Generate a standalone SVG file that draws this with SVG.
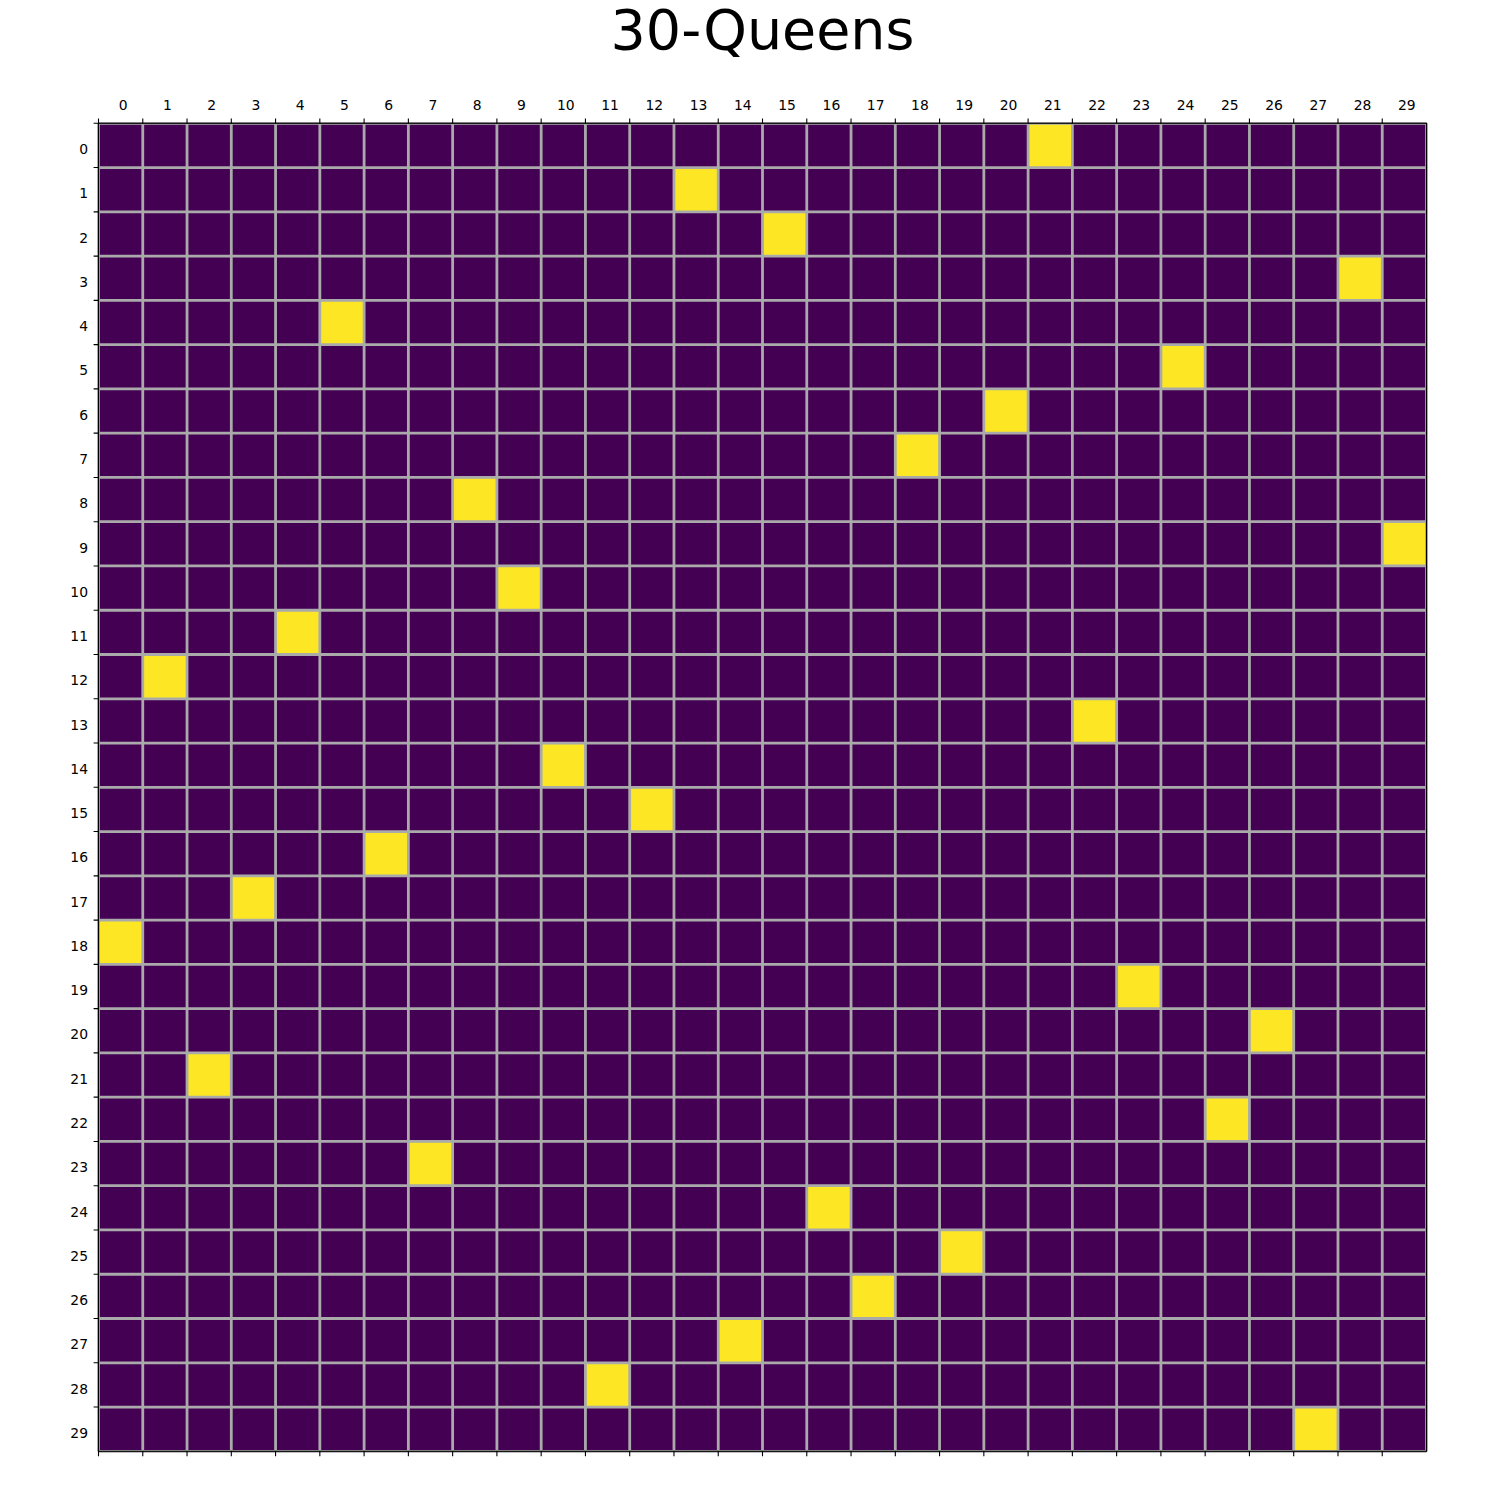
<svg xmlns="http://www.w3.org/2000/svg" width="1500" height="1500" viewBox="0 0 1500 1500">
<style>
.t{font-family:"DejaVu Sans","Liberation Sans",sans-serif;font-size:13.9px;fill:#000}
.top{text-anchor:middle}
.left{text-anchor:end}
.title{font-family:"DejaVu Sans","Liberation Sans",sans-serif;font-size:55.5px;text-anchor:middle;fill:#000}
.q{fill:#fde725}
.grid{stroke:#aaaaaa;stroke-width:0.063;fill:none}
.tick{stroke:#000;stroke-width:1.1;fill:none}
</style>
<rect width="1500" height="1500" fill="#fff"/>
<text class="title" x="762.5" y="49">30-Queens</text>
<g id="board" transform="translate(98.5 123.3) scale(44.267)">
<rect x="0" y="0" width="30" height="30" fill="#440154"/>
<g id="queens">
<rect class="q" x="21" y="0" width="1" height="1"/>
<rect class="q" x="13" y="1" width="1" height="1"/>
<rect class="q" x="15" y="2" width="1" height="1"/>
<rect class="q" x="28" y="3" width="1" height="1"/>
<rect class="q" x="5" y="4" width="1" height="1"/>
<rect class="q" x="24" y="5" width="1" height="1"/>
<rect class="q" x="20" y="6" width="1" height="1"/>
<rect class="q" x="18" y="7" width="1" height="1"/>
<rect class="q" x="8" y="8" width="1" height="1"/>
<rect class="q" x="29" y="9" width="1" height="1"/>
<rect class="q" x="9" y="10" width="1" height="1"/>
<rect class="q" x="4" y="11" width="1" height="1"/>
<rect class="q" x="1" y="12" width="1" height="1"/>
<rect class="q" x="22" y="13" width="1" height="1"/>
<rect class="q" x="10" y="14" width="1" height="1"/>
<rect class="q" x="12" y="15" width="1" height="1"/>
<rect class="q" x="6" y="16" width="1" height="1"/>
<rect class="q" x="3" y="17" width="1" height="1"/>
<rect class="q" x="0" y="18" width="1" height="1"/>
<rect class="q" x="23" y="19" width="1" height="1"/>
<rect class="q" x="26" y="20" width="1" height="1"/>
<rect class="q" x="2" y="21" width="1" height="1"/>
<rect class="q" x="25" y="22" width="1" height="1"/>
<rect class="q" x="7" y="23" width="1" height="1"/>
<rect class="q" x="16" y="24" width="1" height="1"/>
<rect class="q" x="19" y="25" width="1" height="1"/>
<rect class="q" x="17" y="26" width="1" height="1"/>
<rect class="q" x="14" y="27" width="1" height="1"/>
<rect class="q" x="11" y="28" width="1" height="1"/>
<rect class="q" x="27" y="29" width="1" height="1"/>
</g>
<path class="grid" d="M0 0V30M1 0V30M2 0V30M3 0V30M4 0V30M5 0V30M6 0V30M7 0V30M8 0V30M9 0V30M10 0V30M11 0V30M12 0V30M13 0V30M14 0V30M15 0V30M16 0V30M17 0V30M18 0V30M19 0V30M20 0V30M21 0V30M22 0V30M23 0V30M24 0V30M25 0V30M26 0V30M27 0V30M28 0V30M29 0V30M30 0V30M0 0H30M0 1H30M0 2H30M0 3H30M0 4H30M0 5H30M0 6H30M0 7H30M0 8H30M0 9H30M0 10H30M0 11H30M0 12H30M0 13H30M0 14H30M0 15H30M0 16H30M0 17H30M0 18H30M0 19H30M0 20H30M0 21H30M0 22H30M0 23H30M0 24H30M0 25H30M0 26H30M0 27H30M0 28H30M0 29H30M0 30H30"/>
<rect x="0" y="0" width="30" height="30" fill="none" stroke="#000" stroke-width="0.025"/>
</g>
<g id="ticks">
<path class="tick" d="M98.5 123.3v-4.9M142.77 123.3v-4.9M187.03 123.3v-4.9M231.3 123.3v-4.9M275.57 123.3v-4.9M319.83 123.3v-4.9M364.1 123.3v-4.9M408.37 123.3v-4.9M452.64 123.3v-4.9M496.9 123.3v-4.9M541.17 123.3v-4.9M585.44 123.3v-4.9M629.7 123.3v-4.9M673.97 123.3v-4.9M718.24 123.3v-4.9M762.5 123.3v-4.9M806.77 123.3v-4.9M851.04 123.3v-4.9M895.31 123.3v-4.9M939.57 123.3v-4.9M983.84 123.3v-4.9M1028.11 123.3v-4.9M1072.37 123.3v-4.9M1116.64 123.3v-4.9M1160.91 123.3v-4.9M1205.17 123.3v-4.9M1249.44 123.3v-4.9M1293.71 123.3v-4.9M1337.98 123.3v-4.9M1382.24 123.3v-4.9"/>
<path class="tick" d="M98.5 1451.3v4.9M142.77 1451.3v4.9M187.03 1451.3v4.9M231.3 1451.3v4.9M275.57 1451.3v4.9M319.83 1451.3v4.9M364.1 1451.3v4.9M408.37 1451.3v4.9M452.64 1451.3v4.9M496.9 1451.3v4.9M541.17 1451.3v4.9M585.44 1451.3v4.9M629.7 1451.3v4.9M673.97 1451.3v4.9M718.24 1451.3v4.9M762.5 1451.3v4.9M806.77 1451.3v4.9M851.04 1451.3v4.9M895.31 1451.3v4.9M939.57 1451.3v4.9M983.84 1451.3v4.9M1028.11 1451.3v4.9M1072.37 1451.3v4.9M1116.64 1451.3v4.9M1160.91 1451.3v4.9M1205.17 1451.3v4.9M1249.44 1451.3v4.9M1293.71 1451.3v4.9M1337.98 1451.3v4.9M1382.24 1451.3v4.9"/>
<path class="tick" d="M98.5 123.3h-4.9M98.5 167.57h-4.9M98.5 211.83h-4.9M98.5 256.1h-4.9M98.5 300.37h-4.9M98.5 344.63h-4.9M98.5 388.9h-4.9M98.5 433.17h-4.9M98.5 477.44h-4.9M98.5 521.7h-4.9M98.5 565.97h-4.9M98.5 610.24h-4.9M98.5 654.5h-4.9M98.5 698.77h-4.9M98.5 743.04h-4.9M98.5 787.3h-4.9M98.5 831.57h-4.9M98.5 875.84h-4.9M98.5 920.11h-4.9M98.5 964.37h-4.9M98.5 1008.64h-4.9M98.5 1052.91h-4.9M98.5 1097.17h-4.9M98.5 1141.44h-4.9M98.5 1185.71h-4.9M98.5 1229.97h-4.9M98.5 1274.24h-4.9M98.5 1318.51h-4.9M98.5 1362.78h-4.9M98.5 1407.04h-4.9"/>
</g>
<g id="col-labels" class="t top">
<text x="123.13" y="110">0</text>
<text x="167.4" y="110">1</text>
<text x="211.66" y="110">2</text>
<text x="255.93" y="110">3</text>
<text x="300.2" y="110">4</text>
<text x="344.46" y="110">5</text>
<text x="388.73" y="110">6</text>
<text x="433" y="110">7</text>
<text x="477.27" y="110">8</text>
<text x="521.53" y="110">9</text>
<text x="565.8" y="110">10</text>
<text x="610.07" y="110">11</text>
<text x="654.33" y="110">12</text>
<text x="698.6" y="110">13</text>
<text x="742.87" y="110">14</text>
<text x="787.13" y="110">15</text>
<text x="831.4" y="110">16</text>
<text x="875.67" y="110">17</text>
<text x="919.94" y="110">18</text>
<text x="964.2" y="110">19</text>
<text x="1008.47" y="110">20</text>
<text x="1052.74" y="110">21</text>
<text x="1097" y="110">22</text>
<text x="1141.27" y="110">23</text>
<text x="1185.54" y="110">24</text>
<text x="1229.8" y="110">25</text>
<text x="1274.07" y="110">26</text>
<text x="1318.34" y="110">27</text>
<text x="1362.61" y="110">28</text>
<text x="1406.87" y="110">29</text>
</g>
<g id="row-labels" class="t left">
<text x="88" y="154.1">0</text>
<text x="88" y="198.37">1</text>
<text x="88" y="242.63">2</text>
<text x="88" y="286.9">3</text>
<text x="88" y="331.17">4</text>
<text x="88" y="375.43">5</text>
<text x="88" y="419.7">6</text>
<text x="88" y="463.97">7</text>
<text x="88" y="508.24">8</text>
<text x="88" y="552.5">9</text>
<text x="88" y="596.77">10</text>
<text x="88" y="641.04">11</text>
<text x="88" y="685.3">12</text>
<text x="88" y="729.57">13</text>
<text x="88" y="773.84">14</text>
<text x="88" y="818.1">15</text>
<text x="88" y="862.37">16</text>
<text x="88" y="906.64">17</text>
<text x="88" y="950.91">18</text>
<text x="88" y="995.17">19</text>
<text x="88" y="1039.44">20</text>
<text x="88" y="1083.71">21</text>
<text x="88" y="1127.97">22</text>
<text x="88" y="1172.24">23</text>
<text x="88" y="1216.51">24</text>
<text x="88" y="1260.77">25</text>
<text x="88" y="1305.04">26</text>
<text x="88" y="1349.31">27</text>
<text x="88" y="1393.58">28</text>
<text x="88" y="1437.84">29</text>
</g>
</svg>
